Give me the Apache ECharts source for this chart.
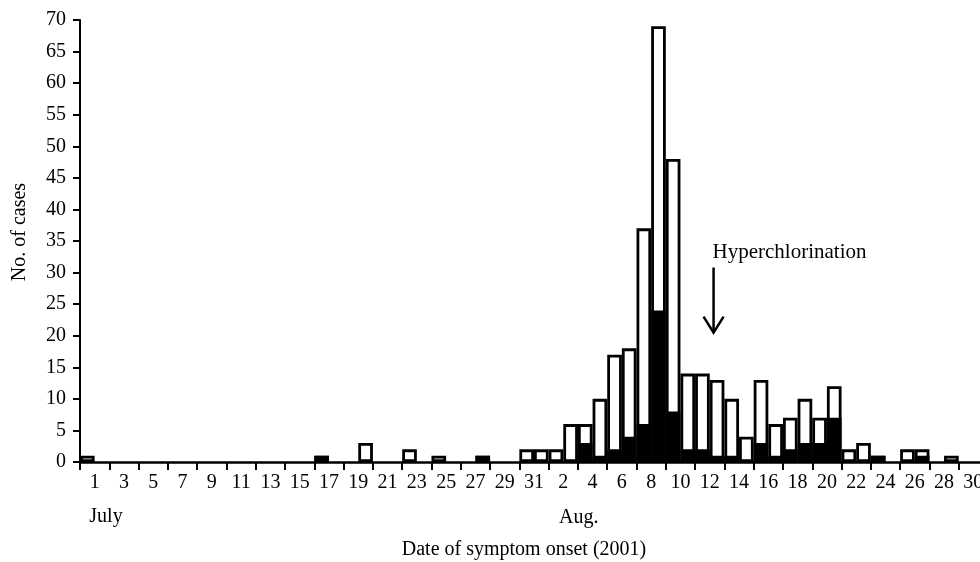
<!DOCTYPE html>
<html><head><meta charset="utf-8">
<script src="https://cdn.jsdelivr.net/npm/echarts@6/dist/echarts.min.js"></script>
<style>html,body{margin:0;padding:0;background:#fff}#c{width:980px;height:562px}</style>
</head><body><div id="c"></div>
<script>
const days = [
 "Jul 1","Jul 2","Jul 3","Jul 4","Jul 5","Jul 6","Jul 7","Jul 8","Jul 9","Jul 10",
 "Jul 11","Jul 12","Jul 13","Jul 14","Jul 15","Jul 16","Jul 17","Jul 18","Jul 19","Jul 20",
 "Jul 21","Jul 22","Jul 23","Jul 24","Jul 25","Jul 26","Jul 27","Jul 28","Jul 29","Jul 30","Jul 31",
 "Aug 1","Aug 2","Aug 3","Aug 4","Aug 5","Aug 6","Aug 7","Aug 8","Aug 9","Aug 10",
 "Aug 11","Aug 12","Aug 13","Aug 14","Aug 15","Aug 16","Aug 17","Aug 18","Aug 19","Aug 20",
 "Aug 21","Aug 22","Aug 23","Aug 24","Aug 25","Aug 26","Aug 27","Aug 28","Aug 29","Aug 30","Aug 31"
];
const tickLabels = ["1","3","5","7","9","11","13","15","17","19","21","23","25","27","29","31",
 "2","4","6","8","10","12","14","16","18","20","22","24","26","28","30"];
// total cases per day (white bar height)
const totalCases = [
 1,0,0,0,0,0,0,0,0,0,
 0,0,0,0,0,0,1,0,0,3,
 0,0,2,0,1,0,0,1,0,0,2,
 2,2,6,6,10,17,18,37,69,48,
 14,14,13,10,4,13,6,7,10,7,
 12,2,3,1,0,2,2,0,1,0,0
];
// black portion per day
const blackCases = [
 0,0,0,0,0,0,0,0,0,0,
 0,0,0,0,0,0,1,0,0,0,
 0,0,0,0,0,0,0,1,0,0,0,
 0,0,0,3,1,2,4,6,24,8,
 2,2,1,1,0,3,1,2,3,3,
 7,0,0,1,0,0,1,0,0,0,0
];
const monthLabels = ["July","Aug."];
const monthStartDays = ["Jul 1","Aug 2"];
const annotationText = "Hyperchlorination";
const annotationDay = "Aug 13";
const xTitle = "Date of symptom onset (2001)";
const yTitle = "No. of cases";

const FONT = '"Liberation Serif","Times New Roman",serif';
const chart = echarts.init(document.getElementById('c'), null, {renderer:'canvas'});
const toBar = v => v === 0 ? '-' : v;
chart.setOption({
  animation:false,
  backgroundColor:'#fff',
  grid:{left:80, width:908, top:20, bottom:100, containLabel:false, outerBoundsMode:'none'},
  xAxis:[
    {type:'category', data:days, position:'bottom', boundaryGap:true,
     axisLine:{show:true, lineStyle:{color:'#000', width:2.5}}, axisTick:{show:false},
     axisLabel:{show:false}, splitLine:{show:false}},
    {type:'category', data:tickLabels, position:'bottom', boundaryGap:true,
     axisLine:{show:false},
     axisTick:{show:true, interval:0, length:8, lineStyle:{color:'#000', width:2}},
     axisLabel:{interval:0, margin:11, fontFamily:FONT, fontSize:20, color:'#000'},
     splitLine:{show:false}}
  ],
  yAxis:{type:'value', min:0, max:70, interval:5,
    axisLine:{show:true, lineStyle:{color:'#000', width:2}},
    axisTick:{show:true, length:7, lineStyle:{color:'#000', width:2}},
    axisLabel:{margin:14, fontFamily:FONT, fontSize:20, color:'#000'},
    splitLine:{show:false}},
  series:[
    {type:'bar', xAxisIndex:0, data:totalCases.map(toBar), barWidth:'100%', barGap:'-100%',
     itemStyle:{color:'#fff', borderColor:'#000', borderWidth:2.8}},
    {type:'bar', xAxisIndex:0, data:blackCases.map(toBar), barWidth:'100%', barGap:'-100%',
     itemStyle:{color:'#000', borderColor:'#000', borderWidth:2.8}}
  ]
});

const px = (d, v) => chart.convertToPixel({xAxisIndex:0, yAxisIndex:0}, [d, v]);
const arrowTop = px(annotationDay, 30.8), arrowBot = px(annotationDay, 20.5), txtPos = px(annotationDay, 33.2);
const ax = arrowTop[0] - 3.5;
const y0 = px(days[0], 0)[1];
const m0 = px(monthStartDays[0], 0), m1 = px(monthStartDays[1], 0);
chart.setOption({
  graphic:[
    {type:'line', shape:{x1:ax, y1:arrowTop[1], x2:ax, y2:arrowBot[1]}, style:{stroke:'#000', lineWidth:2.5}},
    {type:'polyline', shape:{points:[[ax-10, arrowBot[1]-16],[ax, arrowBot[1]],[ax+10, arrowBot[1]-16]]}, style:{stroke:'#000', lineWidth:2.5, fill:null}},
    {type:'text', x:ax-1, y:txtPos[1], style:{text:annotationText, font:'21px '+FONT, fill:'#000', align:'left', verticalAlign:'middle'}},
    {type:'text', x:m0[0]+2, y:y0+55, style:{text:monthLabels[0], font:'20px '+FONT, fill:'#000', align:'left', verticalAlign:'middle'}},
    {type:'text', x:m1[0]+3, y:y0+56, style:{text:monthLabels[1], font:'20px '+FONT, fill:'#000', align:'left', verticalAlign:'middle'}},
    {type:'text', x:524, y:y0+88, style:{text:xTitle, font:'20px '+FONT, fill:'#000', align:'center', verticalAlign:'middle'}},
    {type:'text', x:20, y:232, rotation:Math.PI/2, style:{text:yTitle, font:'20px '+FONT, fill:'#000', align:'center', verticalAlign:'middle'}}
  ]
});
</script>
</body></html>
